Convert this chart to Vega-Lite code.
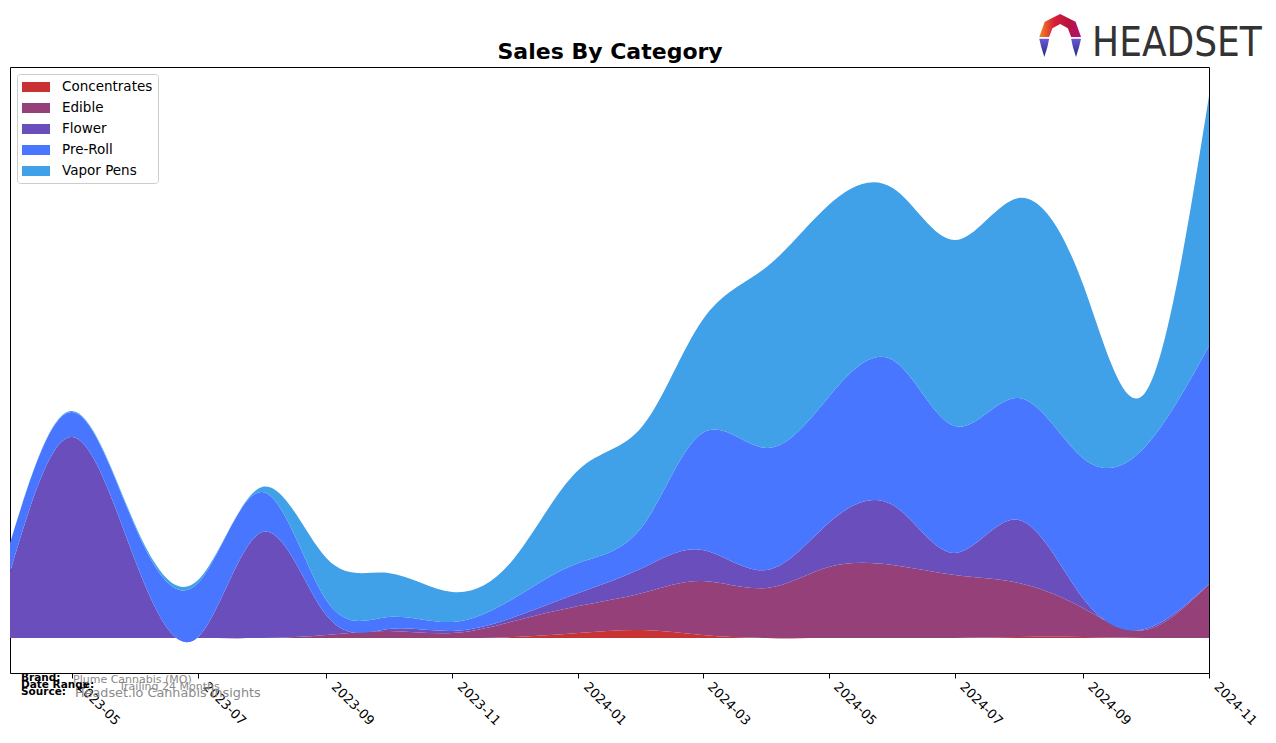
{
  "$schema": "https://vega.github.io/schema/vega-lite/v6.json",
  "width": 1199,
  "height": 606,
  "autosize": {"type": "none"},
  "padding": {"left": 10, "top": 67, "right": 67, "bottom": 70},
  "background": "white",
  "config": {"font": "DejaVu Sans", "view": {"stroke": "black", "strokeWidth": 1}},
  "datasets": {
    "sales": [
      {"month": "2023-04-01", "category": "Concentrates", "sales": 0}, {"month": "2023-04-01", "category": "Edible", "sales": 0}, {"month": "2023-04-01", "category": "Flower", "sales": 66}, {"month": "2023-04-01", "category": "Pre-Roll", "sales": 29}, {"month": "2023-04-01", "category": "Vapor Pens", "sales": 0},
      {"month": "2023-05-01", "category": "Concentrates", "sales": 0}, {"month": "2023-05-01", "category": "Edible", "sales": 0}, {"month": "2023-05-01", "category": "Flower", "sales": 201}, {"month": "2023-05-01", "category": "Pre-Roll", "sales": 25}, {"month": "2023-05-01", "category": "Vapor Pens", "sales": 1},
      {"month": "2023-06-01", "category": "Concentrates", "sales": 0}, {"month": "2023-06-01", "category": "Edible", "sales": 0}, {"month": "2023-06-01", "category": "Flower", "sales": 75}, {"month": "2023-06-01", "category": "Pre-Roll", "sales": 34}, {"month": "2023-06-01", "category": "Vapor Pens", "sales": 2},
      {"month": "2023-07-01", "category": "Concentrates", "sales": 0}, {"month": "2023-07-01", "category": "Edible", "sales": 0}, {"month": "2023-07-01", "category": "Flower", "sales": 1}, {"month": "2023-07-01", "category": "Pre-Roll", "sales": 54}, {"month": "2023-07-01", "category": "Vapor Pens", "sales": 3},
      {"month": "2023-08-01", "category": "Concentrates", "sales": 0}, {"month": "2023-08-01", "category": "Edible", "sales": 0}, {"month": "2023-08-01", "category": "Flower", "sales": 106}, {"month": "2023-08-01", "category": "Pre-Roll", "sales": 40}, {"month": "2023-08-01", "category": "Vapor Pens", "sales": 5},
      {"month": "2023-09-01", "category": "Concentrates", "sales": 0}, {"month": "2023-09-01", "category": "Edible", "sales": 3}, {"month": "2023-09-01", "category": "Flower", "sales": 20}, {"month": "2023-09-01", "category": "Pre-Roll", "sales": 15}, {"month": "2023-09-01", "category": "Vapor Pens", "sales": 42},
      {"month": "2023-10-01", "category": "Concentrates", "sales": 0}, {"month": "2023-10-01", "category": "Edible", "sales": 7}, {"month": "2023-10-01", "category": "Flower", "sales": 2}, {"month": "2023-10-01", "category": "Pre-Roll", "sales": 12}, {"month": "2023-10-01", "category": "Vapor Pens", "sales": 44},
      {"month": "2023-11-01", "category": "Concentrates", "sales": 0}, {"month": "2023-11-01", "category": "Edible", "sales": 5}, {"month": "2023-11-01", "category": "Flower", "sales": 2}, {"month": "2023-11-01", "category": "Pre-Roll", "sales": 9}, {"month": "2023-11-01", "category": "Vapor Pens", "sales": 30},
      {"month": "2023-12-01", "category": "Concentrates", "sales": 1}, {"month": "2023-12-01", "category": "Edible", "sales": 16}, {"month": "2023-12-01", "category": "Flower", "sales": 4}, {"month": "2023-12-01", "category": "Pre-Roll", "sales": 19}, {"month": "2023-12-01", "category": "Vapor Pens", "sales": 40},
      {"month": "2024-01-01", "category": "Concentrates", "sales": 5}, {"month": "2024-01-01", "category": "Edible", "sales": 27}, {"month": "2024-01-01", "category": "Flower", "sales": 13}, {"month": "2024-01-01", "category": "Pre-Roll", "sales": 30}, {"month": "2024-01-01", "category": "Vapor Pens", "sales": 93},
      {"month": "2024-02-01", "category": "Concentrates", "sales": 8}, {"month": "2024-02-01", "category": "Edible", "sales": 37}, {"month": "2024-02-01", "category": "Flower", "sales": 25}, {"month": "2024-02-01", "category": "Pre-Roll", "sales": 42}, {"month": "2024-02-01", "category": "Vapor Pens", "sales": 100},
      {"month": "2024-03-01", "category": "Concentrates", "sales": 3}, {"month": "2024-03-01", "category": "Edible", "sales": 54}, {"month": "2024-03-01", "category": "Flower", "sales": 31}, {"month": "2024-03-01", "category": "Pre-Roll", "sales": 117}, {"month": "2024-03-01", "category": "Vapor Pens", "sales": 113},
      {"month": "2024-04-01", "category": "Concentrates", "sales": 0}, {"month": "2024-04-01", "category": "Edible", "sales": 50}, {"month": "2024-04-01", "category": "Flower", "sales": 18}, {"month": "2024-04-01", "category": "Pre-Roll", "sales": 122}, {"month": "2024-04-01", "category": "Vapor Pens", "sales": 181},
      {"month": "2024-05-01", "category": "Concentrates", "sales": 0}, {"month": "2024-05-01", "category": "Edible", "sales": 71}, {"month": "2024-05-01", "category": "Flower", "sales": 44}, {"month": "2024-05-01", "category": "Pre-Roll", "sales": 126}, {"month": "2024-05-01", "category": "Vapor Pens", "sales": 192},
      {"month": "2024-06-01", "category": "Concentrates", "sales": 0}, {"month": "2024-06-01", "category": "Edible", "sales": 73}, {"month": "2024-06-01", "category": "Flower", "sales": 60}, {"month": "2024-06-01", "category": "Pre-Roll", "sales": 145}, {"month": "2024-06-01", "category": "Vapor Pens", "sales": 172},
      {"month": "2024-07-01", "category": "Concentrates", "sales": 0}, {"month": "2024-07-01", "category": "Edible", "sales": 63}, {"month": "2024-07-01", "category": "Flower", "sales": 22}, {"month": "2024-07-01", "category": "Pre-Roll", "sales": 127}, {"month": "2024-07-01", "category": "Vapor Pens", "sales": 186},
      {"month": "2024-08-01", "category": "Concentrates", "sales": 1}, {"month": "2024-08-01", "category": "Edible", "sales": 54}, {"month": "2024-08-01", "category": "Flower", "sales": 63}, {"month": "2024-08-01", "category": "Pre-Roll", "sales": 122}, {"month": "2024-08-01", "category": "Vapor Pens", "sales": 200},
      {"month": "2024-09-01", "category": "Concentrates", "sales": 1}, {"month": "2024-09-01", "category": "Edible", "sales": 29}, {"month": "2024-09-01", "category": "Flower", "sales": 10}, {"month": "2024-09-01", "category": "Pre-Roll", "sales": 140}, {"month": "2024-09-01", "category": "Vapor Pens", "sales": 174},
      {"month": "2024-10-01", "category": "Concentrates", "sales": 0}, {"month": "2024-10-01", "category": "Edible", "sales": 8}, {"month": "2024-10-01", "category": "Flower", "sales": 1}, {"month": "2024-10-01", "category": "Pre-Roll", "sales": 182}, {"month": "2024-10-01", "category": "Vapor Pens", "sales": 54},
      {"month": "2024-11-01", "category": "Concentrates", "sales": 0}, {"month": "2024-11-01", "category": "Edible", "sales": 54}, {"month": "2024-11-01", "category": "Flower", "sales": 0}, {"month": "2024-11-01", "category": "Pre-Roll", "sales": 238}, {"month": "2024-11-01", "category": "Vapor Pens", "sales": 250}
    ],
    "titleRow": [
      {"t": "2024-01-16T07:00:00Z", "v": 579, "text": "Sales By Category"}
    ],
    "noteLabels": [
      {"t": "2023-04-06T08:00:00Z", "v": -43, "text": "Brand:"},
      {"t": "2023-04-06T08:00:00Z", "v": -50, "text": "Date Range:"},
      {"t": "2023-04-06T08:00:00Z", "v": -57, "text": "Source:"}
    ],
    "noteValues": [
      {"t": "2023-05-01T12:00:00Z", "v": -45, "text": "Plume Cannabis (MO)"},
      {"t": "2023-05-23T17:00:00Z", "v": -52, "text": "Trailing 24 Months"}
    ],
    "noteSource": [
      {"t": "2023-05-02T10:00:00Z", "v": -59, "text": "Headset.io Cannabis Insights"}
    ],
    "logo": [
      {"t": "2024-10-16T12:00:00Z", "v": 582, "text": "HEADSET"}
    ],
    "logoIcon": [
      {"t": "2024-08-21T00:00:00Z", "v": 602}
    ]
  },
  "layer": [
    {
      "data": {"name": "sales"},
      "mark": {"type": "area", "interpolate": "natural", "opacity": 1},
      "encoding": {
        "x": {
          "field": "month", "type": "temporal",
          "scale": {"type": "utc", "nice": false, "domain": [{"year": 2023, "month": 4, "date": 1, "utc": true}, {"year": 2024, "month": 11, "date": 1, "utc": true}]},
          "axis": {
            "values": [
              {"year": 2023, "month": 5, "date": 1, "utc": true}, {"year": 2023, "month": 7, "date": 1, "utc": true}, {"year": 2023, "month": 9, "date": 1, "utc": true}, {"year": 2023, "month": 11, "date": 1, "utc": true},
              {"year": 2024, "month": 1, "date": 1, "utc": true}, {"year": 2024, "month": 3, "date": 1, "utc": true}, {"year": 2024, "month": 5, "date": 1, "utc": true}, {"year": 2024, "month": 7, "date": 1, "utc": true},
              {"year": 2024, "month": 9, "date": 1, "utc": true}, {"year": 2024, "month": 11, "date": 1, "utc": true}
            ],
            "format": "%Y-%m", "labelAngle": 45, "labelAlign": "left", "labelBaseline": "top",
            "labelFontSize": 13, "labelFont": "DejaVu Sans", "labelColor": "black", "labelPadding": 2, "labelOffset": 11,
            "labelOverlap": false, "labelFlush": false, "tickColor": "black", "tickSize": 5,
            "domain": false, "grid": false, "title": null
          }
        },
        "y": {"field": "sales", "type": "quantitative", "stack": "zero", "scale": {"domain": [-35, 571], "nice": false, "zero": false}, "axis": null},
        "color": {
          "field": "category", "type": "nominal",
          "scale": {"domain": ["Concentrates", "Edible", "Flower", "Pre-Roll", "Vapor Pens"], "range": ["#c83232", "#954079", "#6a4fbc", "#4876fe", "#40a0e8"]},
          "legend": {
            "title": null, "orient": "none", "legendX": 7, "legendY": 7,
            "labelFontSize": 13.5, "labelFont": "DejaVu Sans", "labelColor": "black", "labelOffset": 18,
            "symbolType": "M-1.75,-0.625H1.75V0.625H-1.75Z", "symbolSize": 256, "symbolOffset": 6, "symbolStrokeWidth": 0, "symbolOpacity": 1,
            "strokeColor": "#cccccc", "fillColor": "white", "padding": 5, "cornerRadius": 3, "rowPadding": 6
          }
        },
        "order": {"field": "category", "sort": "ascending"}
      }
    },
    {
      "data": {"name": "titleRow"},
      "mark": {"type": "text", "align": "center", "baseline": "alphabetic", "fontSize": 22, "fontWeight": "bold", "color": "black", "font": "DejaVu Sans"},
      "encoding": {
        "x": {"field": "t", "type": "temporal"},
        "y": {"field": "v", "type": "quantitative", "axis": null},
        "text": {"field": "text"}
      }
    },
    {
      "data": {"name": "noteLabels"},
      "mark": {"type": "text", "align": "left", "baseline": "alphabetic", "fontSize": 10.5, "fontWeight": "bold", "color": "black", "font": "DejaVu Sans"},
      "encoding": {
        "x": {"field": "t", "type": "temporal"},
        "y": {"field": "v", "type": "quantitative", "axis": null},
        "text": {"field": "text"}
      }
    },
    {
      "data": {"name": "noteValues"},
      "mark": {"type": "text", "align": "left", "baseline": "alphabetic", "fontSize": 11, "color": "#8a8a8a", "font": "DejaVu Sans"},
      "encoding": {
        "x": {"field": "t", "type": "temporal"},
        "y": {"field": "v", "type": "quantitative", "axis": null},
        "text": {"field": "text"}
      }
    },
    {
      "data": {"name": "noteSource"},
      "mark": {"type": "text", "align": "left", "baseline": "alphabetic", "fontSize": 12.8, "color": "#8a8a8a", "font": "DejaVu Sans"},
      "encoding": {
        "x": {"field": "t", "type": "temporal"},
        "y": {"field": "v", "type": "quantitative", "axis": null},
        "text": {"field": "text"}
      }
    },
    {
      "data": {"name": "logo"},
      "mark": {"type": "text", "align": "center", "baseline": "alphabetic", "fontSize": 40, "color": "#333333", "font": "Liberation Sans Narrow, DejaVu Sans Condensed, sans-serif"},
      "encoding": {
        "x": {"field": "t", "type": "temporal"},
        "y": {"field": "v", "type": "quantitative", "axis": null},
        "text": {"field": "text"}
      }
    },
    {
      "data": {"name": "logoIcon"},
      "mark": {
        "type": "point", "filled": true, "opacity": 1, "size": 1936,
        "shape": "M-0.95,0.05L-0.7,-0.65L0,-1L0.7,-0.65L0.95,0.05L0.5,0.05L0.35,-0.35L0,-0.55L-0.35,-0.35L-0.5,0.05Z",
        "color": {"gradient": "linear", "x1": 0, "y1": 0, "x2": 1, "y2": 0, "stops": [{"offset": 0, "color": "#f08a1c"}, {"offset": 0.35, "color": "#d8203a"}, {"offset": 0.7, "color": "#b8143e"}, {"offset": 1, "color": "#b0127a"}]}
      },
      "encoding": {
        "x": {"field": "t", "type": "temporal"},
        "y": {"field": "v", "type": "quantitative", "axis": null}
      }
    },
    {
      "data": {"name": "logoIcon"},
      "mark": {
        "type": "point", "filled": true, "opacity": 1, "size": 1936,
        "shape": "M-0.95,0.12L-0.5,0.12L-0.58,0.5L-0.72,0.95L-0.86,0.5Z M0.95,0.12L0.5,0.12L0.58,0.5L0.72,0.95L0.86,0.5Z",
        "color": {"gradient": "linear", "x1": 0, "y1": 0, "x2": 0, "y2": 1, "stops": [{"offset": 0, "color": "#6a5ad8"}, {"offset": 1, "color": "#262a7a"}]}
      },
      "encoding": {
        "x": {"field": "t", "type": "temporal"},
        "y": {"field": "v", "type": "quantitative", "axis": null}
      }
    }
  ]
}
